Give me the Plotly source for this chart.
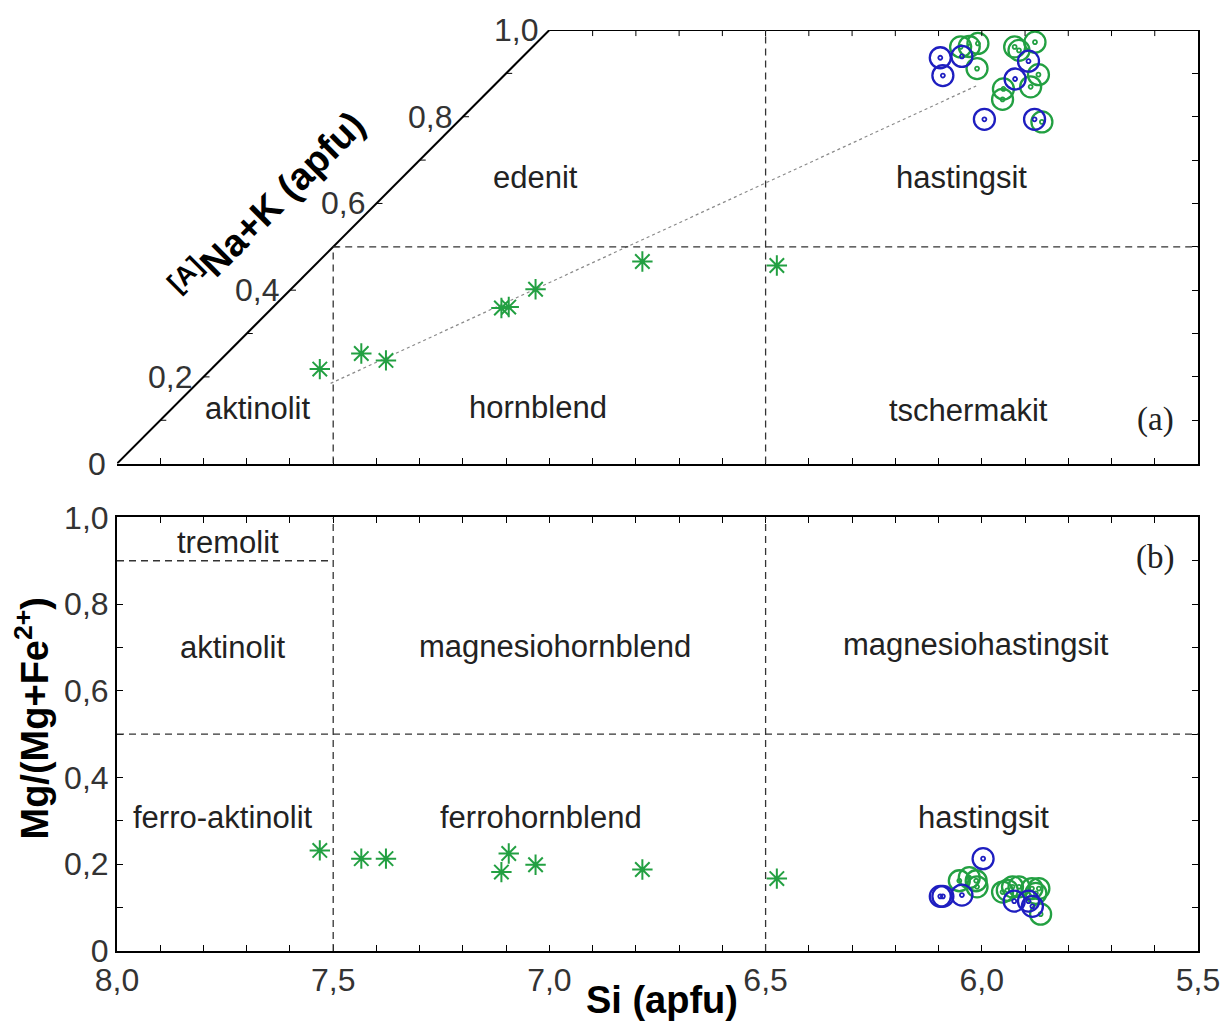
import plotly.graph_objects as go

# ---------------- data ----------------
# Panel (a): Si vs [A](Na+K)
a_star_si = [7.531, 7.435, 7.378, 7.111, 7.094, 7.032, 6.785, 6.474]
a_star_nak = [0.218, 0.254, 0.238, 0.359, 0.361, 0.402, 0.466, 0.457]

a_blue_si = [6.096, 6.090, 6.046, 5.892, 5.923, 5.994, 5.878]
a_blue_nak = [0.936, 0.895, 0.939, 0.928, 0.887, 0.794, 0.794]

a_green_si = [6.049, 6.029, 6.009, 6.011, 5.924, 5.914, 5.877, 5.869, 5.887, 5.950, 5.952, 5.861]
a_green_nak = [0.961, 0.962, 0.969, 0.911, 0.961, 0.953, 0.972, 0.897, 0.869, 0.864, 0.840, 0.788]

trend_si = [7.506, 6.013]
trend_nak = [0.185, 0.871]

# Panel (b): Si vs Mg/(Mg+Fe2+)
b_star_si = [7.531, 7.435, 7.378, 7.111, 7.094, 7.032, 6.785, 6.474]
b_star_mg = [0.232, 0.213, 0.213, 0.182, 0.225, 0.199, 0.188, 0.167]

b_blue_si = [5.997, 6.096, 6.090, 6.046, 5.925, 5.892, 5.883]
b_blue_mg = [0.213, 0.126, 0.126, 0.129, 0.115, 0.115, 0.103]

b_green_si = [6.052, 6.029, 6.013, 6.011, 5.952, 5.929, 5.914, 5.884, 5.868, 5.875, 5.864, 5.941]
b_green_mg = [0.162, 0.169, 0.162, 0.148, 0.136, 0.148, 0.148, 0.144, 0.144, 0.133, 0.085, 0.140]

# tick labels
x_tick_vals = [round(8.0 - 0.1 * i, 1) for i in range(26)]
x_major_labels = {8.0: "8,0", 7.5: "7,5", 7.0: "7,0", 6.5: "6,5", 6.0: "6,0", 5.5: "5,5"}
y_tick_vals = [round(0.1 * i, 1) for i in range(11)]
y_major_labels = {0.0: "0", 0.2: "0,2", 0.4: "0,4", 0.6: "0,6", 0.8: "0,8", 1.0: "1,0"}

# region names
a_regions = [("edenit", 7.033, 0.66), ("hastingsit", 6.048, 0.66), ("aktinolit", 7.675, 0.126),
             ("hornblend", 7.026, 0.129), ("tschermakit", 6.03, 0.122)]
b_regions = [("tremolit", 7.744, 0.943), ("aktinolit", 7.733, 0.701),
             ("magnesiohornblend", 6.987, 0.703), ("magnesiohastingsit", 6.013, 0.708),
             ("ferro-aktinolit", 7.754, 0.308), ("ferrohornblend", 7.019, 0.308),
             ("hastingsit", 5.995, 0.308)]

GREEN = "#23a042"
BLUE = "#1e1ec0"
FONT = "Liberation Sans, Arial, sans-serif"

fig = go.Figure()

def star(x, y, xa, ya):
    fig.add_trace(go.Scatter(x=x, y=y, mode="markers", xaxis=xa, yaxis=ya,
                             marker=dict(symbol="asterisk-open", size=17, color=GREEN,
                                         line=dict(color=GREEN, width=2)),
                             showlegend=False))

def ring(x, y, color, xa, ya):
    fig.add_trace(go.Scatter(x=x, y=y, mode="markers", xaxis=xa, yaxis=ya,
                             marker=dict(symbol="circle-open", size=21, color=color,
                                         line=dict(color=color, width=2.3)),
                             showlegend=False))
    fig.add_trace(go.Scatter(x=x, y=y, mode="markers", xaxis=xa, yaxis=ya,
                             marker=dict(symbol="circle-open", size=4, color=color,
                                         line=dict(color=color, width=1.8)),
                             showlegend=False))

# panel (a)
fig.add_trace(go.Scatter(x=trend_si, y=trend_nak, mode="lines", xaxis="x", yaxis="y",
                         line=dict(color="#8a8a8a", width=1.2, dash="dot"), showlegend=False))
star(a_star_si, a_star_nak, "x", "y")
ring(a_green_si, a_green_nak, GREEN, "x", "y")
ring(a_blue_si, a_blue_nak, BLUE, "x", "y")
# panel (b)
star(b_star_si, b_star_mg, "x2", "y2")
ring(b_green_si, b_green_mg, GREEN, "x2", "y2")
ring(b_blue_si, b_blue_mg, BLUE, "x2", "y2")

shapes = []
def seg(x0, y0, x1, y1, xr, yr, width=2, color="black", dash=None):
    line = dict(color=color, width=width)
    if dash:
        line["dash"] = dash
    shapes.append(dict(type="line", x0=x0, y0=y0, x1=x1, y1=y1, xref=xr, yref=yr,
                       line=line, layer="above"))

# panel (a) frame: diagonal and top edge
seg(8.0, 0.0, 7.0, 1.0, "x", "y")
seg(7.0, 1.0, 5.5, 1.0, "x", "y")
TL = 0.014
for v in x_tick_vals:
    if 5.5 < v < 7.0:
        seg(v, 1.0, v, 1.0 - TL, "x", "y", width=1)
for v in y_tick_vals:
    if 0 < v < 1:
        seg(8.0 - v, v, 8.0 - v - TL, v, "x", "y", width=1)

DASH = "7px,5px"
DC = "#333333"
# panel (a) boundaries
seg(7.5, 0.5, 5.5, 0.5, "x", "y", 1.3, DC, DASH)
seg(7.5, 0.0, 7.5, 0.5, "x", "y", 1.3, DC, DASH)
seg(6.5, 0.0, 6.5, 1.0, "x", "y", 1.3, DC, DASH)
# panel (b) boundaries
seg(8.0, 0.9, 7.5, 0.9, "x2", "y2", 1.3, DC, DASH)
seg(8.0, 0.5, 5.5, 0.5, "x2", "y2", 1.3, DC, DASH)
seg(7.5, 0.0, 7.5, 1.0, "x2", "y2", 1.3, DC, DASH)
seg(6.5, 0.0, 6.5, 1.0, "x2", "y2", 1.3, DC, DASH)

ann = []
LABEL_FONT = dict(family=FONT, size=31, color="#222222")
TICK_FONT = dict(family=FONT, size=32, color="#333333")
for name, x, y in a_regions:
    ann.append(dict(text=name, x=x, y=y, xref="x", yref="y", showarrow=False, font=LABEL_FONT))
for name, x, y in b_regions:
    ann.append(dict(text=name, x=x, y=y, xref="x2", yref="y2", showarrow=False, font=LABEL_FONT))
SERIF = dict(family="Liberation Serif, Times New Roman, serif", size=33, color="#222222")
ann.append(dict(text="(a)", x=5.599, y=0.101, xref="x", yref="y", showarrow=False, font=SERIF))
ann.append(dict(text="(b)", x=5.599, y=0.908, xref="x2", yref="y2", showarrow=False, font=SERIF))
# panel (a) y tick labels along the diagonal
for v, lab in y_major_labels.items():
    ann.append(dict(text=lab, x=8.0 - v, y=v, xref="x", yref="y", showarrow=False,
                    xanchor="right", yanchor="middle", xshift=-9, font=TICK_FONT))
# axis titles
TITLE_FONT = dict(family=FONT, size=38, color="black")
ann.append(dict(text="<b>Si (apfu)</b>", x=6.74, y=-0.053, xref="x2", yref="paper",
                xanchor="center", yanchor="middle", showarrow=False, font=TITLE_FONT))
ann.append(dict(text="<b>Mg/(Mg+Fe<sup>2+</sup>)</b>", x=-0.079, y=0.252, xref="paper", yref="paper",
                xanchor="center", yanchor="middle", showarrow=False, textangle=-90, font=TITLE_FONT))
ann.append(dict(text="<b><sup>[A]</sup>Na+K (apfu)</b>", x=0.139, y=0.8095, xref="paper", yref="paper",
                xanchor="center", yanchor="middle", showarrow=False, textangle=-45, font=TITLE_FONT))

x_tick_text = [x_major_labels.get(v, "") for v in x_tick_vals]
y_tick_text = [y_major_labels.get(v, "") for v in y_tick_vals]

common = dict(showgrid=False, zeroline=False, showline=True, linecolor="black", linewidth=2,
              ticks="inside", ticklen=6, tickwidth=1, tickcolor="black", tickfont=TICK_FONT)

fig.update_layout(
    width=1232, height=1021, autosize=False,
    margin=dict(l=117, r=29, t=27, b=70),
    paper_bgcolor="white", plot_bgcolor="white",
    xaxis=dict(domain=[0, 1], range=[8.0, 5.5], anchor="y", tickvals=x_tick_vals,
               showticklabels=False, **common),
    yaxis=dict(domain=[0.5292, 1], range=[0, 1], anchor="x", side="right", tickvals=y_tick_vals,
               showticklabels=False, **common),
    xaxis2=dict(domain=[0, 1], range=[8.0, 5.5], anchor="y2", tickvals=x_tick_vals,
                ticktext=x_tick_text, mirror="ticks", **common),
    yaxis2=dict(domain=[0, 0.4708], range=[0, 1], anchor="x2", tickvals=y_tick_vals,
                ticktext=y_tick_text, mirror="ticks", **common),
    shapes=shapes, annotations=ann,
)

fig.write_html("out.html")
